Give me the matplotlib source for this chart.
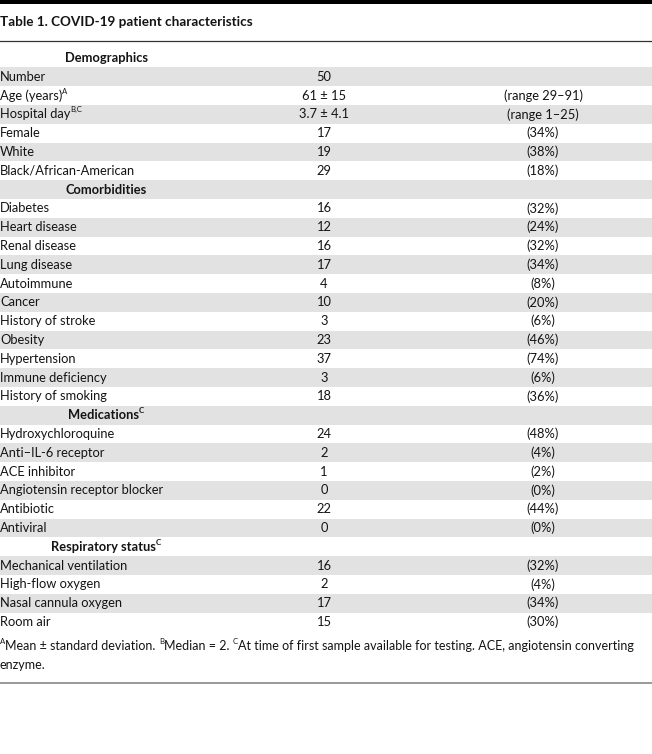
import matplotlib
matplotlib.use('Agg')
import matplotlib.pyplot as plt

# ---------------------------------------------------------------------------
# Table content
# ---------------------------------------------------------------------------
title = 'Table 1. COVID-19 patient characteristics'

labels = ['Demographics', 'Number', 'Age (years)', 'Hospital day', 'Female', 'White',
          'Black/African-American',
          'Comorbidities', 'Diabetes', 'Heart disease', 'Renal disease', 'Lung disease',
          'Autoimmune', 'Cancer', 'History of stroke', 'Obesity', 'Hypertension',
          'Immune deficiency', 'History of smoking',
          'Medications', 'Hydroxychloroquine', 'Anti\u2013IL-6 receptor', 'ACE inhibitor',
          'Angiotensin receptor blocker', 'Antibiotic', 'Antiviral',
          'Respiratory status', 'Mechanical ventilation', 'High-flow oxygen',
          'Nasal cannula oxygen', 'Room air']
label_sups = ['', '', 'A', 'B,C', '', '', '',
              '', '', '', '', '', '', '', '', '', '', '', '',
              'C', '', '', '', '', '', '',
              'C', '', '', '', '']
counts = ['', '50', '61 \u00b1 15', '3.7 \u00b1 4.1', '17', '19', '29',
          '', '16', '12', '16', '17', '4', '10', '3', '23', '37', '3', '18',
          '', '24', '2', '1', '0', '22', '0',
          '', '16', '2', '17', '15']
details = ['', '', '(range 29\u201391)', '(range 1\u201325)', '(34%)', '(38%)', '(18%)',
           '', '(32%)', '(24%)', '(32%)', '(34%)', '(8%)', '(20%)', '(6%)', '(46%)', '(74%)',
           '(6%)', '(36%)',
           '', '(48%)', '(4%)', '(2%)', '(0%)', '(44%)', '(0%)',
           '', '(32%)', '(4%)', '(34%)', '(30%)']
sections = ['Demographics', 'Comorbidities', 'Medications', 'Respiratory status']

footnote_1 = [('A', True), ('Mean \u00b1 standard deviation. ', False), ('B', True),
              ('Median = 2. ', False), ('C', True),
              ('At time of first sample available for testing. ACE, angiotensin converting', False)]
footnote_2 = [('enzyme.', False)]

# ---------------------------------------------------------------------------
# Drawing
# ---------------------------------------------------------------------------
W, H = 652, 754
FONT = 'Lato'
TXT = '#141414'
GREY = '#e2e2e2'
FS = 9.3
FOOT_FS = 9.0
SUP_FS = 5.6

fig = plt.figure(figsize=(W / 100, H / 100), dpi=100)
ax = fig.add_axes([0, 0, 1, 1])
ax.set_xlim(0, W)
ax.set_ylim(H, 0)
ax.axis('off')
renderer = fig.canvas.get_renderer()


def draw_pieces(x, y, pieces, weight='normal', ha='left', fs=FS):
    # draw text pieces one after another, superscripts smaller and raised
    arts = []
    cx = x
    for s, sup in pieces:
        t = ax.text(cx, y - (4.5 if sup else 0), s, fontsize=SUP_FS if sup else fs,
                    family=FONT, weight=weight, color=TXT, va='center', ha='left')
        cx += t.get_window_extent(renderer).width
        arts.append(t)
    if ha == 'center':
        shift = (cx - x) / 2
        for t in arts:
            px, py = t.get_position()
            t.set_position((px - shift, py))


# top thick rule, title, thin rule
ax.axhspan(0, 3.5, color='black', lw=0)
ax.text(0, 22, title, fontsize=9.7, family=FONT, weight='bold', color=TXT, va='center')
ax.axhline(40.5, color='#333333', lw=0.9)

row_top = 48.5
pitch = 18.8
for i, lab in enumerate(labels):
    y0 = row_top + i * pitch
    yc = y0 + pitch / 2
    if i % 2 == 1:
        ax.axhspan(y0, y0 + pitch, color=GREY, lw=0)
    pieces = [(lab, False)] + ([(label_sups[i], True)] if label_sups[i] else [])
    if lab in sections:
        draw_pieces(106, yc, pieces, weight='bold', ha='center')
    else:
        draw_pieces(0, yc, pieces)
    if counts[i]:
        ax.text(324, yc, counts[i], fontsize=FS, family=FONT, color=TXT, va='center', ha='center')
    if details[i]:
        ax.text(543, yc, details[i], fontsize=FS, family=FONT, color=TXT, va='center', ha='center')

draw_pieces(0, 646, footnote_1, fs=FOOT_FS)
draw_pieces(0, 665, footnote_2, fs=FOOT_FS)
ax.axhline(682.5, color='#888888', lw=1.2)

fig.savefig('out.png', dpi=100)
